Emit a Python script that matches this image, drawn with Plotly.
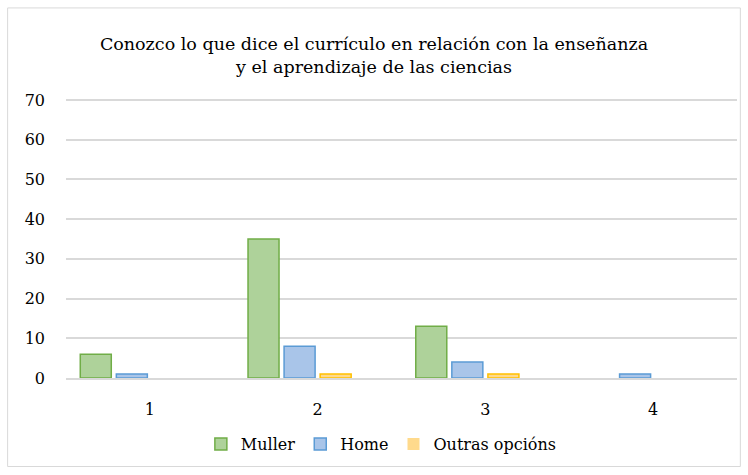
import plotly.graph_objects as go

categories = ["1", "2", "3", "4"]
muller = [6, 35, 13, 0]
home = [1, 8, 4, 1]
outras = [0, 1, 1, 0]
blank = [None, None, None, None]

title_text = "Conozco lo que dice el currículo en relación con la enseñanza<br>y el aprendizaje de las ciencias"
font_family = "DejaVu Serif"


def edge_widths(values):
    return [1.5 if v else 0 for v in values]


fig = go.Figure()
fig.add_trace(go.Bar(name="Muller", x=categories, y=muller,
                     marker=dict(color="#aed29a", line=dict(color="#70ad47", width=edge_widths(muller)))))
fig.add_trace(go.Bar(name="Home", x=categories, y=home,
                     marker=dict(color="#a9c5e9", line=dict(color="#5b9bd5", width=edge_widths(home)))))
fig.add_trace(go.Bar(name="Outras opcións", x=categories, y=outras,
                     marker=dict(color="#ffda8c", line=dict(color="#ffc000", width=edge_widths(outras)))))
fig.add_trace(go.Bar(name="", x=categories, y=blank, showlegend=False, hoverinfo="skip"))

fig.update_layout(
    width=748, height=475,
    margin=dict(l=66, r=11, t=97, b=97, autoexpand=False),
    paper_bgcolor="white", plot_bgcolor="white",
    font=dict(family=font_family, size=16, color="#000000"),
    title=dict(text=title_text, x=0.5, xanchor="center", y=0.895, yanchor="middle",
               font=dict(family=font_family, size=17.5, color="#000000")),
    barmode="group", bargap=0.14, bargroupgap=0.14,
    showlegend=True,
    legend=dict(orientation="h", x=0.47, xanchor="center", y=-0.235, yanchor="middle",
                font=dict(size=16), itemwidth=30, traceorder="normal"),
    xaxis=dict(showgrid=False, showline=True, linecolor="#d9d9d9", linewidth=1.5,
               ticks="", ticklabelstandoff=16, zeroline=False, automargin=False),
    yaxis=dict(range=[0, 70.75], dtick=10, showgrid=True, gridcolor="#d9d9d9", gridwidth=1.5,
               zeroline=False, showline=False, ticks="", ticklabelstandoff=20, automargin=False),
    shapes=[dict(type="rect", xref="paper", yref="paper",
                 x0=-0.087, x1=1.005, y0=-0.315, y1=1.317,
                 line=dict(color="#d9d9d9", width=1), fillcolor="rgba(0,0,0,0)", layer="below")],
)

fig.write_html("out.html", config={"displayModeBar": False},
               post_script="document.body.style.margin='0';")
